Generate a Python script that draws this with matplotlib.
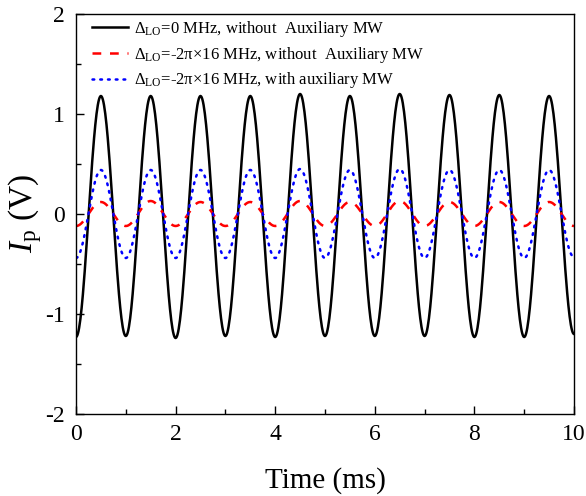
import numpy as np
import matplotlib
matplotlib.use("Agg")
import matplotlib.pyplot as plt
from matplotlib.ticker import MultipleLocator

plt.rcParams['font.family'] = ['Liberation Serif', 'DejaVu Serif']
plt.rcParams['mathtext.fontset'] = 'custom'
plt.rcParams['mathtext.rm'] = 'Liberation Serif'
plt.rcParams['mathtext.it'] = 'Liberation Serif:italic'
plt.rcParams['axes.unicode_minus'] = False

# extrema of each trace (time in ms, signal in V)
t_ext = [0, 0.5, 1, 1.5, 2, 2.5, 3, 3.5, 4, 4.5, 5, 5.5, 6, 6.5, 7, 7.5, 8, 8.5, 9, 9.5, 10]
black_ext = [-1.23, 1.18, -1.22, 1.18, -1.24, 1.18, -1.22, 1.18, -1.23, 1.20, -1.22,
             1.18, -1.22, 1.20, -1.22, 1.19, -1.23, 1.19, -1.23, 1.18, -1.20]
red_ext = [-0.12, 0.12, -0.12, 0.13, -0.12, 0.12, -0.12, 0.12, -0.12, 0.13, -0.12,
           0.12, -0.12, 0.13, -0.12, 0.12, -0.12, 0.12, -0.12, 0.12, -0.12]
blue_ext = [-0.44, 0.44, -0.44, 0.44, -0.44, 0.44, -0.44, 0.44, -0.44, 0.45, -0.44,
            0.44, -0.44, 0.45, -0.44, 0.44, -0.44, 0.44, -0.44, 0.44, -0.43]

labels = [r'$\Delta_{\mathrm{LO}}$=0 MHz, without  Auxiliary MW',
          r'$\Delta_{\mathrm{LO}}$=-2π×16 MHz, without  Auxiliary MW',
          r'$\Delta_{\mathrm{LO}}$=-2π×16 MHz, with auxiliary MW']


def trace(tx, vx, n=40):
    # half-cosine segments joining successive extrema
    ts, vs = [], []
    for i in range(len(tx) - 1):
        s = np.linspace(0, 1, n, endpoint=False)
        ts.append(tx[i] + s * (tx[i+1] - tx[i]))
        vs.append(vx[i] + (vx[i+1] - vx[i]) * (1 - np.cos(np.pi * s)) / 2)
    ts.append([tx[-1]])
    vs.append([vx[-1]])
    return np.concatenate(ts), np.concatenate(vs)


fig = plt.figure(figsize=(5.86, 4.96), dpi=100)
ax = fig.add_axes([0.1297, 0.1653, 0.8498, 0.8065])

t, v = trace(t_ext, black_ext)
ax.plot(t, v, color='black', lw=1.8, label=labels[0])
t, v = trace(t_ext, red_ext)
ax.plot(t, v, color='red', lw=1.8, ls=(0, (3.5, 3.5)), label=labels[1])
t, v = trace(t_ext, blue_ext)
ax.plot(t, v, color='blue', lw=1.8, ls=(0, (0.7, 2.4)), dash_capstyle='round', label=labels[2])

ax.set_xlim(0, 10)
ax.set_ylim(-2, 2)
ax.xaxis.set_major_locator(MultipleLocator(2))
ax.xaxis.set_minor_locator(MultipleLocator(1))
ax.yaxis.set_major_locator(MultipleLocator(1))
ax.yaxis.set_minor_locator(MultipleLocator(0.5))
ax.tick_params(which='both', direction='in', top=False, right=False, labelsize=17, width=1)
ax.tick_params(which='major', length=6)
ax.tick_params(which='minor', length=3.5)
ax.tick_params(axis='y', pad=8)
ax.tick_params(axis='x', pad=7)
for sp in ax.spines.values():
    sp.set_linewidth(1.0)

ax.set_xlabel('Time (ms)', fontsize=21, labelpad=16)
ax.set_ylabel(r'$I_{\mathrm{p}}$ (V)', fontsize=24, labelpad=1)

ax.legend(loc='upper left', bbox_to_anchor=(0.032, 0.988), frameon=False, fontsize=12,
          handlelength=2.15, handletextpad=0.4, labelspacing=0.35,
          borderaxespad=0, borderpad=0)

fig.savefig('out.png', dpi=100)
